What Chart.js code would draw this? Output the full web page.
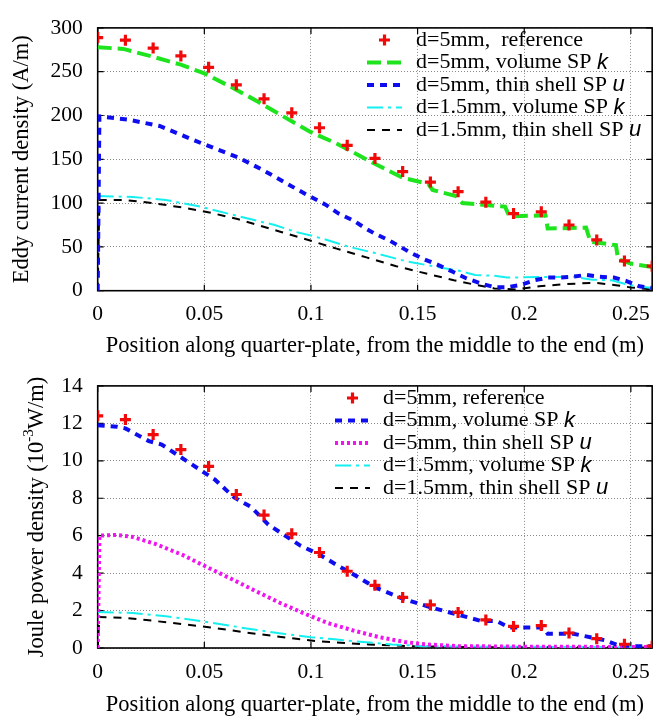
<!DOCTYPE html>
<html>
<head>
<meta charset="utf-8">
<script src="https://cdn.jsdelivr.net/npm/chart.js@4.4.1/dist/chart.umd.min.js"></script>
<style>
  html, body { margin: 0; padding: 0; background: #fff; }
  canvas { position: absolute; left: 0; }
  #eddy { top: 0; }
  #joule { top: 358px; }
</style>
</head>
<body>
<canvas id="eddy" width="661" height="358"></canvas>
<canvas id="joule" width="661" height="359"></canvas>
<script>
const xTicks = [0, 0.05, 0.1, 0.15, 0.2, 0.25];
const eddyTicks = [0, 50, 100, 150, 200, 250, 300];
const jouleTicks = [0, 2, 4, 6, 8, 10, 12, 14];

// reference points (same positions in both plots)
const refX = [0, 0.013, 0.026, 0.039, 0.052, 0.065, 0.078, 0.091, 0.104, 0.117, 0.13,
  0.143, 0.156, 0.169, 0.182, 0.195, 0.208, 0.221, 0.234, 0.247, 0.26];
const eddyRef = [289, 286, 277, 268, 255, 235, 219, 203, 186, 166, 151,
  136, 124, 113, 101, 88, 90, 75, 58, 34, 28];
const jouleRef = [12.4, 12.2, 11.4, 10.6, 9.7, 8.2, 7.1, 6.1, 5.1, 4.1, 3.35,
  2.7, 2.3, 1.9, 1.5, 1.15, 1.2, 0.8, 0.5, 0.2, 0.1];

// eddy current density, d=5mm
const eddyVolD5X = [0, 0.012, 0.026, 0.039, 0.05, 0.063, 0.075, 0.087, 0.1, 0.112, 0.129, 0.143, 0.155,
  0.157, 0.168, 0.171, 0.191, 0.193, 0.21, 0.211, 0.229, 0.231, 0.243, 0.244, 0.25, 0.26];
const eddyVolD5 = [278, 276, 267, 258, 248, 232, 216, 199, 181, 168, 146, 129, 122,
  115, 108, 100, 96, 85, 86, 71, 72, 56, 52, 36, 31, 27];
const eddyShellD5X = [0, 0.0008, 0.015, 0.029, 0.049, 0.066, 0.078, 0.094, 0.1, 0.107, 0.113, 0.12,
  0.125, 0.13, 0.137, 0.142, 0.147, 0.153, 0.16, 0.167, 0.173, 0.18, 0.186, 0.192, 0.199, 0.205,
  0.211, 0.217, 0.223, 0.229, 0.235, 0.242, 0.248, 0.254, 0.26];
const eddyShellD5 = [0, 199, 195, 188, 168, 152, 137, 115, 107, 98, 88, 80,
  72, 65, 57, 50, 43, 36, 29, 21, 14, 8, 4, 4, 7, 12,
  15, 15, 16, 18, 16, 15, 11, 5, 3];

// eddy current density, d=1.5mm
const eddyVolD15X = [0, 0.0165, 0.032, 0.049, 0.066, 0.083, 0.093, 0.1, 0.106, 0.118, 0.13, 0.144,
  0.157, 0.169, 0.177, 0.186, 0.192, 0.207, 0.223, 0.232, 0.241, 0.249, 0.26];
const eddyVolD15 = [108, 107, 103.5, 95.5, 85, 75, 67, 63, 59, 50, 43, 34,
  28, 23, 18, 17, 15, 15.5, 16, 12.5, 12, 6.5, 3];
const eddyShellD15X = [0, 0.0008, 0.013, 0.026, 0.041, 0.053, 0.066, 0.086, 0.1, 0.112, 0.126, 0.14,
  0.155, 0.167, 0.178, 0.186, 0.196, 0.207, 0.218, 0.233, 0.243, 0.25, 0.26];
const eddyShellD15 = [0, 103.5, 103.5, 100, 94.5, 89, 81.5, 67, 57, 48, 38, 28,
  19, 12, 6.3, 2.6, 1.5, 5, 7.4, 9, 6.3, 3.7, 1.5];

// joule power density (10^-3 W/m), d=5mm
const jouleVolD5X = [0, 0.009, 0.013, 0.024, 0.03, 0.039, 0.047, 0.055, 0.064, 0.072, 0.08, 0.087,
  0.095, 0.104, 0.112, 0.12, 0.13, 0.143, 0.155, 0.166, 0.18, 0.187, 0.193, 0.203, 0.209, 0.211,
  0.223, 0.229, 0.238, 0.244, 0.252, 0.26];
const jouleVolD5 = [11.9, 11.82, 11.73, 11.05, 10.87, 10.19, 9.59, 8.99, 8.04, 7.53, 6.59, 6.07,
  5.47, 4.99, 4.44, 3.93, 3.24, 2.64, 2.21, 1.87, 1.44, 1.44, 1.1, 1.1, 1.1, 0.76,
  0.76, 0.62, 0.41, 0.15, 0.1, 0.1];
const jouleShellD5X = [0, 0.0008, 0.009, 0.0165, 0.027, 0.04, 0.05, 0.063, 0.075, 0.086, 0.098,
  0.108, 0.12, 0.132, 0.144, 0.153, 0.169, 0.2, 0.26];
const jouleShellD5 = [0, 6.0, 6.04, 5.93, 5.56, 4.96, 4.39, 3.67, 2.99, 2.38, 1.79,
  1.33, 0.93, 0.58, 0.32, 0.2, 0.1, 0.07, 0.05];

// joule power density, d=1.5mm
const jouleVolD15X = [0, 0.0165, 0.032, 0.05, 0.069, 0.087, 0.1, 0.11, 0.123, 0.138, 0.153, 0.184, 0.26];
const jouleVolD15 = [1.92, 1.87, 1.7, 1.41, 1.06, 0.76, 0.58, 0.48, 0.33, 0.19, 0.1, 0.07, 0.04];
const jouleShellD15X = [0, 0.0008, 0.013, 0.024, 0.04, 0.053, 0.072, 0.087, 0.103, 0.127, 0.146, 0.169, 0.26];
const jouleShellD15 = [0, 1.65, 1.61, 1.48, 1.27, 1.1, 0.79, 0.58, 0.36, 0.19, 0.1, 0.05, 0.03];

const xTitle = 'Position along quarter-plate, from the middle to the end (m)';

const serif = "'Liberation Serif', 'Times New Roman', serif";
const sans = "'Liberation Sans', Arial, sans-serif";

const red = '#f00a0a';
const green = '#1ee41e';
const blue = '#0d0df0';
const cyan = '#14f0f0';
const magenta = '#f014f0';

const greenStyle = { color: green, dash: [14, 6], width: 4 };
const blueStyle = { color: blue, dash: [7, 6], width: 4 };
const cyanStyle = { color: cyan, dash: [16, 5, 3, 5], width: 2 };
const blackStyle = { color: '#000', dash: [8, 7], width: 2 };
const magentaStyle = { color: magenta, dash: [3, 3], width: 4 };

const pts = (xs, ys) => xs.map((x, i) => ({ x: x, y: ys[i] }));

const refSet = (ys) => ({
  data: pts(refX, ys),
  showLine: false,
  pointStyle: 'cross',
  pointRadius: 5.5,
  pointBorderWidth: 3.2,
  pointBorderColor: red,
  borderColor: red
});

const lineSet = (xs, ys, st) => ({
  data: pts(xs, ys),
  showLine: true,
  fill: false,
  tension: 0,
  pointRadius: 0,
  borderColor: st.color,
  borderDash: st.dash,
  borderWidth: st.width,
  borderCapStyle: 'butt'
});

const framePlugin = {
  id: 'frame',
  beforeDatasetsDraw(chart) {
    const { ctx, chartArea: a, scales } = chart;
    ctx.save();
    ctx.strokeStyle = '#000';
    ctx.lineWidth = 1.2;
    ctx.beginPath();
    scales.x.ticks.forEach(t => {
      const px = scales.x.getPixelForValue(t.value);
      ctx.moveTo(px, a.bottom); ctx.lineTo(px, a.bottom - 6);
      ctx.moveTo(px, a.top); ctx.lineTo(px, a.top + 6);
    });
    scales.y.ticks.forEach(t => {
      const py = scales.y.getPixelForValue(t.value);
      ctx.moveTo(a.left, py); ctx.lineTo(a.left + 6, py);
      ctx.moveTo(a.right, py); ctx.lineTo(a.right - 6, py);
    });
    ctx.stroke();
    ctx.lineWidth = 1.6;
    ctx.strokeRect(a.left, a.top, a.right - a.left, a.bottom - a.top);
    ctx.restore();
  }
};

const drawPieces = (ctx, pieces, cx, cy) => {
  let total = 0;
  pieces.forEach(p => { ctx.font = p.font; total += ctx.measureText(p.text).width; });
  let x = cx - total / 2;
  pieces.forEach(p => {
    ctx.font = p.font;
    ctx.fillText(p.text, x, cy - (p.rise || 0));
    x += ctx.measureText(p.text).width;
  });
};

const textPlugin = {
  id: 'keyBox',
  afterDraw(chart, args, opts) {
    const { ctx, chartArea: a } = chart;
    ctx.save();
    ctx.fillStyle = '#000';
    ctx.textBaseline = 'middle';
    ctx.textAlign = 'left';

    // x title
    drawPieces(ctx, [{ text: xTitle, font: '22.5px ' + serif }], (a.left + a.right) / 2, a.bottom + opts.xTitleGap);

    // y title, rotated
    ctx.save();
    ctx.translate(opts.yTitleX, (a.top + a.bottom) / 2);
    ctx.rotate(-Math.PI / 2);
    drawPieces(ctx, opts.yTitle, 0, 0);
    ctx.restore();

    // key
    opts.entries.forEach((e, i) => {
      const y = opts.keyY + i * 22.5;
      if (e.cross) {
        const cx = (opts.sampleX0 + opts.sampleX1) / 2;
        ctx.strokeStyle = red;
        ctx.lineWidth = 3.2;
        ctx.beginPath();
        ctx.moveTo(cx - 5.5, y); ctx.lineTo(cx + 5.5, y);
        ctx.moveTo(cx, y - 5.5); ctx.lineTo(cx, y + 5.5);
        ctx.stroke();
      } else {
        ctx.strokeStyle = e.style.color;
        ctx.lineWidth = e.style.width;
        ctx.setLineDash(e.style.dash);
        ctx.beginPath();
        ctx.moveTo(opts.sampleX0, y); ctx.lineTo(opts.sampleX1, y);
        ctx.stroke();
        ctx.setLineDash([]);
      }
      ctx.font = '22px ' + serif;
      ctx.fillText(e.text, opts.textX, y);
      if (e.sym) {
        const w = ctx.measureText(e.text).width;
        ctx.font = 'italic 22px ' + sans;
        ctx.fillText(e.sym, opts.textX + w, y);
      }
    });
    ctx.restore();
  }
};

const makeChart = (id, datasets, yMax, yTicks, xHeight, extra) => new Chart(document.getElementById(id), {
  type: 'scatter',
  data: { datasets: datasets },
  plugins: [framePlugin, textPlugin],
  options: {
    responsive: false,
    animation: false,
    events: [],
    layout: { padding: { top: 18, right: 1.5, left: 0, bottom: 0 } },
    plugins: {
      legend: { display: false },
      tooltip: { enabled: false },
      keyBox: extra
    },
    scales: {
      x: {
        type: 'linear',
        min: 0,
        max: 0.26,
        afterBuildTicks: s => { s.ticks = xTicks.map(v => ({ value: v })); },
        afterFit: s => { s.height = xHeight; },
        grid: { color: '#8a8a8a', lineWidth: 1, drawTicks: false },
        border: { display: false, dash: [1, 2] },
        ticks: {
          padding: 11,
          color: '#000',
          maxRotation: 0,
          font: { family: serif, size: 21.5 },
          callback: v => String(v)
        }
      },
      y: {
        type: 'linear',
        min: 0,
        max: yMax,
        afterBuildTicks: s => { s.ticks = yTicks.map(v => ({ value: v })); },
        afterFit: s => { s.width = 97.7; },
        grid: { color: '#8a8a8a', lineWidth: 1, drawTicks: false },
        border: { display: false, dash: [1, 2] },
        ticks: {
          padding: 15,
          color: '#000',
          font: { family: serif, size: 21.5 },
          callback: v => String(v)
        }
      }
    }
  }
});

makeChart('eddy', [
  refSet(eddyRef),
  lineSet(eddyVolD5X, eddyVolD5, greenStyle),
  lineSet(eddyShellD5X, eddyShellD5, blueStyle),
  lineSet(eddyVolD15X, eddyVolD15, cyanStyle),
  lineSet(eddyShellD15X, eddyShellD15, blackStyle)
], 300, eddyTicks, 67.3, {
  xTitleGap: 55.5,
  yTitleX: 22,
  yTitle: [{ text: 'Eddy current density (A/m)', font: '22.5px ' + serif }],
  keyY: 40,
  sampleX0: 367,
  sampleX1: 402,
  textX: 416,
  entries: [
    { text: 'd=5mm,  reference', cross: true },
    { text: 'd=5mm, volume SP ', sym: 'k', style: greenStyle },
    { text: 'd=5mm, thin shell SP ', sym: 'u', style: blueStyle },
    { text: 'd=1.5mm, volume SP ', sym: 'k', style: cyanStyle },
    { text: 'd=1.5mm, thin shell SP ', sym: 'u', style: blackStyle }
  ]
});

makeChart('joule', [
  refSet(jouleRef),
  lineSet(jouleVolD5X, jouleVolD5, blueStyle),
  lineSet(jouleShellD5X, jouleShellD5, magentaStyle),
  lineSet(jouleVolD15X, jouleVolD15, cyanStyle),
  lineSet(jouleShellD15X, jouleShellD15, blackStyle)
], 14, jouleTicks, 69, {
  xTitleGap: 57,
  yTitleX: 37,
  yTitle: [
    { text: 'Joule power density (10', font: '22.5px ' + serif },
    { text: '-3', font: '15px ' + serif, rise: 8 },
    { text: 'W/m)', font: '22.5px ' + serif }
  ],
  keyY: 40,
  sampleX0: 335,
  sampleX1: 370,
  textX: 383,
  entries: [
    { text: 'd=5mm, reference', cross: true },
    { text: 'd=5mm, volume SP ', sym: 'k', style: blueStyle },
    { text: 'd=5mm, thin shell SP ', sym: 'u', style: magentaStyle },
    { text: 'd=1.5mm, volume SP ', sym: 'k', style: cyanStyle },
    { text: 'd=1.5mm, thin shell SP ', sym: 'u', style: blackStyle }
  ]
});
</script>
</body>
</html>
